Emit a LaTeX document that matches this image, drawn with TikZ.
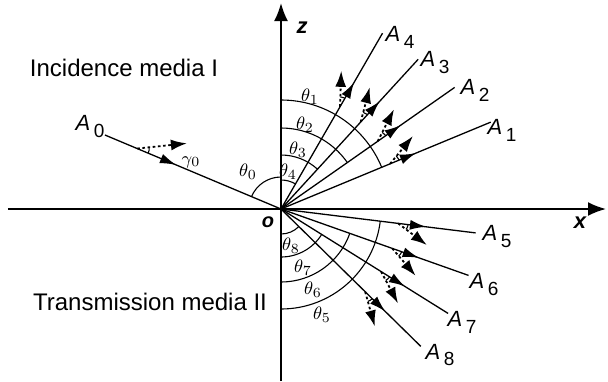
\documentclass[tikz,border=0pt]{standalone}
\usepackage{fontspec}
\setmainfont{Liberation Sans}
\usetikzlibrary{arrows.meta,calc,decorations.markings}

\newcommand{\Asub}[1]{\textit{A}\,\raisebox{-0.6ex}{\fontsize{9.5}{11}\selectfont #1}}

\begin{document}
\begin{tikzpicture}[x=0.5pt, y=0.5pt,
    axis/.style={line width=1pt, -{Latex[length=9pt,width=7pt]}},
    beam/.style={line width=0.65pt, postaction={decorate},
      decoration={markings, mark=at position #1 with {\arrow{Latex[length=8pt,width=5pt]}}}},
    pol/.style={line width=0.9pt, dash pattern=on 1.3pt off 1.3pt, -{Latex[length=8pt,width=5.5pt]}},
    angarc/.style={line width=0.55pt},
    alab/.style={font=\fontsize{11}{13}\selectfont},
    tlab/.style={font=\fontsize{9.5}{11}\selectfont, inner sep=0pt},
    media/.style={font=\fontsize{12}{14}\selectfont}]
    \useasboundingbox (-281,-172) rectangle (327,209);

    % axes
    \coordinate (O) at (0,0);
    \coordinate (xl) at (-273,0);
    \coordinate (xr) at (325,0);
    \coordinate (zb) at (0,-172);
    \coordinate (zt) at (0,206);
    \draw[axis] (xl) -- (xr);
    \draw[axis] (zb) -- (zt);
    \node[font=\fontsize{11}{13}\selectfont] (xlab) at (299,-14) {\bfseries\itshape x};
    \node[font=\fontsize{11}{13}\selectfont] (zlab) at (21,181) {\bfseries\itshape z};
    \node[font=\fontsize{10}{12}\selectfont] (olab) at (-13,-13) {\bfseries\itshape o};

    \node[media] (inc) at (-157,141) {Incidence media I};
    \node[media] (tra) at (-131,-93) {Transmission media II};

    % incident beam
    \coordinate (e0) at (157.2:191);
    \coordinate (s0) at (157.2:156);
    \coordinate (t0) at ($(s0)+(6:50)$);
    \draw[beam=38.5pt] (e0) -- (O);
    \draw[pol] (s0) -- (t0);
    \draw[angarc] ($(s0)+(-22.8:12)$) arc[start angle=-22.8, end angle=6, radius=12];
    \draw[angarc] (0,32) arc[start angle=90, end angle=157.2, radius=32];
    \node[alab] (A0) at (-191,82) {\Asub{0}};
    \node[tlab] (th0) at (-33,37) {$\theta_0$};
    \node[tlab] (ga0) at (-90,47) {$\gamma_0$};

    % reflected and transmitted beams
    \foreach \n/\a/\l/\r/\z/\d/\ax/\ay/\tx/\ty in {
        1/22.5/227/109/90/28/221/79/29/112,
        2/35/212/81/90/28/194/119/24/84,
        3/47.5/203/54/90/28/154/146/17/59,
        4/60/203/29/90/28/119/172/7/37,
        5/-7/196/100/-90/-30/216/-28/41/-106,
        6/-19.5/199/73/-90/-30/203/-76/32/-81,
        7/-32/197/48/-90/-30/181/-113/22/-59,
        8/-44.5/196/25/-90/-30/159/-146/10/-37}
    {
        \pgfmathsetmacro\b{\a+(\d)}
        \coordinate (e\n) at (\a:\l);
        \coordinate (s\n) at (\a:118);
        \coordinate (t\n) at ($(s\n)+(\b:36)$);
        \draw[beam=73pt] (O) -- (e\n);
        \draw[pol] (s\n) -- (t\n);
        \draw[angarc] ($(s\n)+(\a:10)$) arc[start angle=\a, end angle=\b, radius=10];
        \draw[angarc] (\z:\r) arc[start angle=\z, end angle=\a, radius=\r];
        \node[alab] (A\n) at (\ax,\ay) {\Asub{\n}};
        \node[tlab] (th\n) at (\tx,\ty) {$\theta_{\n}$};
    }
\end{tikzpicture}
\end{document}
